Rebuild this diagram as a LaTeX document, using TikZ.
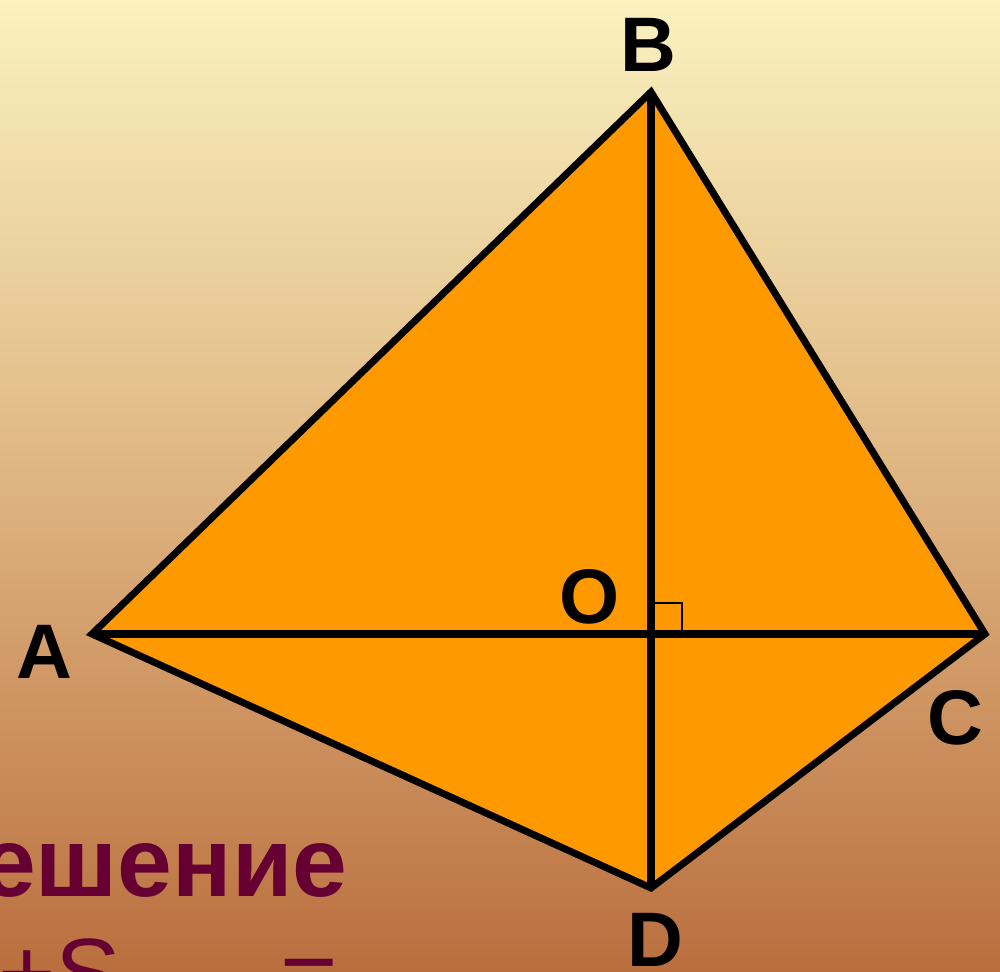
\documentclass[tikz,border=0pt]{standalone}
\usepackage{fontspec}
\setmainfont{Liberation Sans}
\definecolor{bgtop}{RGB}{250,242,192}
\definecolor{bgmid}{RGB}{222,180,128}
\definecolor{bgbot}{RGB}{186,110,62}
\definecolor{kite}{RGB}{255,153,0}
\definecolor{maroon}{RGB}{102,0,51}
\tikzset{
  vlabel/.style={font=\fontsize{22}{26}\selectfont\bfseries, inner sep=0pt},
  edge/.style={line width=2pt, line join=miter},
  solword/.style={font=\fontsize{28}{32}\selectfont\bfseries, text=maroon, inner sep=0pt},
  solline/.style={font=\fontsize{28}{32}\selectfont, text=maroon, inner sep=0pt}
}
\begin{document}
\begin{tikzpicture}[x=0.1mm, y=0.1mm]
  % Background
  \useasboundingbox (0,0) rectangle (1000,972);
  \clip (0,0) rectangle (1000,972);
  \shade[top color=bgtop, bottom color=bgbot, middle color=bgmid] (0,0) rectangle (1000,972);

  % Vertices
  \coordinate (A) at (92,338);
  \coordinate (B) at (651,880);
  \coordinate (C) at (985,338);
  \coordinate (D) at (651,84);
  \coordinate (O) at (651,338);

  % Quadrilateral and diagonals
  \fill[kite] (A) -- (B) -- (C) -- (D) -- cycle;
  \draw[edge] (A) -- (B) -- (C) -- (D) -- cycle;
  \draw[edge] (A) -- (C);
  \draw[edge] (B) -- (D);
  % Right angle mark
  \draw[line width=0.5pt] (O) ++(0,31) -- ++(31,0) -- ++(0,-31);

  % Labels
  \node[vlabel] (lB) at (648,927) {B};
  \node[vlabel] (lA) at (44,320) {A};
  \node[vlabel] (lO) at (590,375) {O};
  \node[vlabel] (lC) at (955,254) {C};
  \node[vlabel] (lD) at (655,32) {D};

  % Solution text
  \node[solword, anchor=base east] (sol) at (348,75) {Решение};
  \node[solline, anchor=base east] (sum) at (122,-36) {+S};
  \node[solline, anchor=base west] (eq) at (280,-36) {=};
\end{tikzpicture}
\end{document}
